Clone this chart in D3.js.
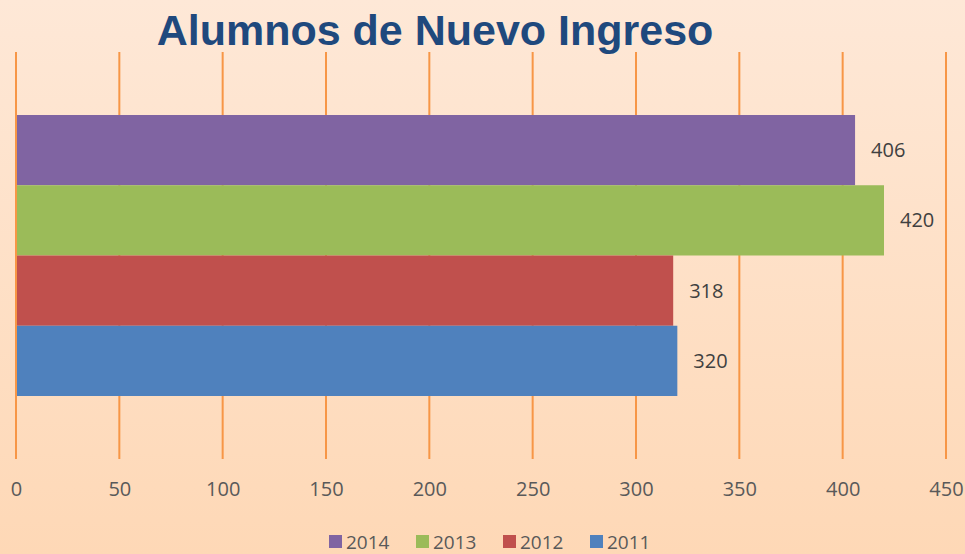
<!DOCTYPE html>
<html>
<head>
<meta charset="utf-8">
<script src="https://cdn.jsdelivr.net/npm/d3@7"></script>
<style>
  html, body { margin: 0; padding: 0; }
  svg { display: block; }
</style>
</head>
<body>
<script>
// chart data
var years = ["2014", "2013", "2012", "2011"];
var alumnos = [406, 420, 318, 320];
var colores = ["#8064a2", "#9bbb59", "#c0504d", "#4f81bd"];
var ticks = [0, 50, 100, 150, 200, 250, 300, 350, 400, 450];

var W = 965, H = 554;

var svg = d3.select("body").append("svg")
    .attr("width", W)
    .attr("height", H);

var defs = svg.append("defs");
var grad = defs.append("linearGradient")
    .attr("id", "bg")
    .attr("x1", 0).attr("y1", 0).attr("x2", 0).attr("y2", 1);
grad.append("stop").attr("offset", "0%").attr("stop-color", "#fee8d7");
grad.append("stop").attr("offset", "100%").attr("stop-color", "#fed8b6");

svg.append("rect")
    .attr("width", W).attr("height", H)
    .attr("fill", "url(#bg)");

var x = d3.scaleLinear().domain([0, 450]).range([16, 946]);
var y = d3.scaleBand().domain(years).range([115, 396]).padding(0);

// gridlines
svg.append("g").selectAll("line")
    .data(ticks)
    .enter().append("line")
        .attr("x1", function (d) { return x(d); })
        .attr("x2", function (d) { return x(d); })
        .attr("y1", 52)
        .attr("y2", 459)
        .attr("stroke", "#f79646")
        .attr("stroke-width", 2);

// bars
svg.append("g").selectAll("rect")
    .data(years)
    .enter().append("rect")
        .attr("x", x(0) + 1)
        .attr("y", function (d) { return y(d); })
        .attr("width", function (d, i) { return x(alumnos[i]) - x(0) - 1; })
        .attr("height", y.bandwidth())
        .attr("fill", function (d, i) { return colores[i]; });

// value labels
svg.append("g").selectAll("text")
    .data(years)
    .enter().append("text")
        .attr("x", function (d, i) { return x(alumnos[i]) + 16; })
        .attr("y", function (d) { return y(d) + y.bandwidth() / 2; })
        .attr("dy", "0.35em")
        .attr("font-family", "Open Sans, sans-serif")
        .attr("font-size", 20)
        .attr("fill", "#404040")
        .text(function (d, i) { return alumnos[i]; });

// x axis labels
var axis = d3.axisBottom(x).tickValues(ticks).tickSize(0).tickPadding(0);
var ax = svg.append("g")
    .attr("transform", "translate(0,482)")
    .call(axis);
ax.select(".domain").remove();
ax.selectAll("text")
    .attr("font-family", "Open Sans, sans-serif")
    .attr("font-size", 20)
    .attr("fill", "#595959");

// title
svg.append("text")
    .attr("x", 435)
    .attr("y", 45)
    .attr("text-anchor", "middle")
    .attr("font-family", "Liberation Sans, Arial, sans-serif")
    .attr("font-weight", "bold")
    .attr("font-size", 43)
    .attr("fill", "#1f497d")
    .text("Alumnos de Nuevo Ingreso");

// legend
var legend = svg.append("g");
var lx = 329;
var item = legend.selectAll("g")
    .data(years)
    .enter().append("g")
        .attr("transform", function (d, i) { return "translate(" + (lx + i * 87) + ",535)"; });
item.append("rect")
    .attr("width", 13).attr("height", 13)
    .attr("fill", function (d, i) { return colores[i]; });
item.append("text")
    .attr("x", 17)
    .attr("y", 7)
    .attr("dy", "0.35em")
    .attr("font-family", "Open Sans, sans-serif")
    .attr("font-size", 19)
    .attr("fill", "#595959")
    .text(function (d) { return d; });
</script>
</body>
</html>
